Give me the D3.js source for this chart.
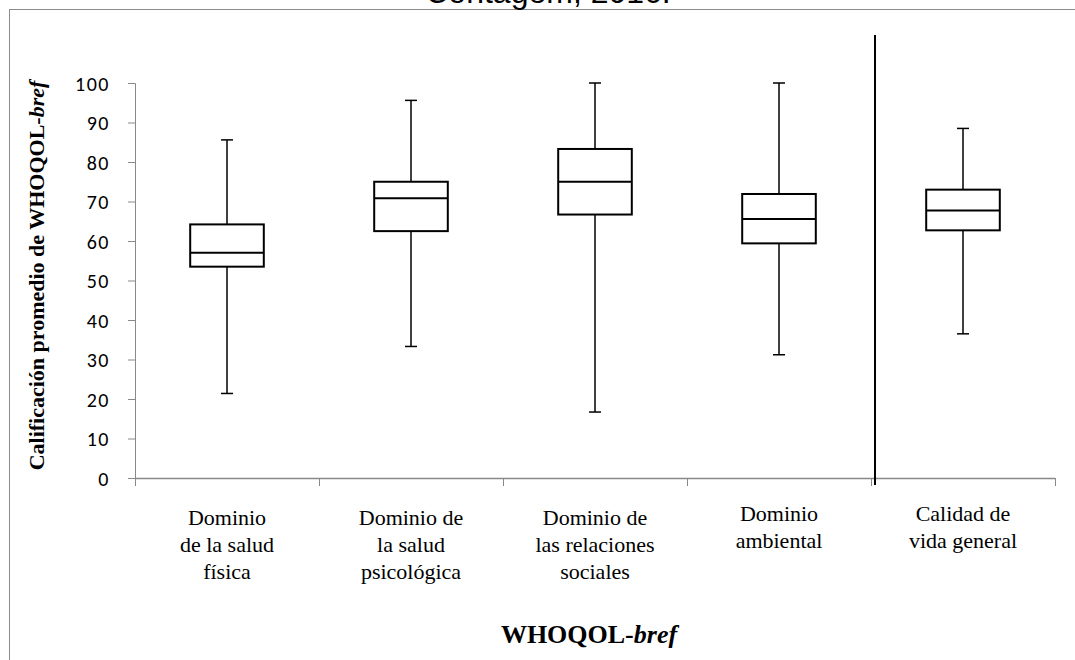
<!DOCTYPE html>
<html>
<head>
<meta charset="utf-8">
<script src="https://cdn.jsdelivr.net/npm/d3@7"></script>
<style>
  body { margin: 0; background: #fff; }
  svg { display: block; }
</style>
</head>
<body>
<div id="chart"></div>
<script>
// WHOQOL-bref domain scores
const categories = [
    ["Dominio", "de la salud", "física"],
    ["Dominio de", "la salud", "psicológica"],
    ["Dominio de", "las relaciones", "sociales"],
    ["Dominio", "ambiental"],
    ["Calidad de", "vida general"]
];
const mins = [21.4, 33.3, 16.7, 31.2, 36.5];
const q1s = [53.5, 62.5, 66.7, 59.4, 62.7];
const medians = [57.0, 70.8, 75.0, 65.6, 67.7];
const q3s = [64.2, 75.0, 83.3, 71.9, 73.0];
const maxs = [85.6, 95.6, 100, 100, 88.5];
const yTicks = [0, 10, 20, 30, 40, 50, 60, 70, 80, 90, 100];

const width = 1075, height = 660;
const margin = { top: 83, right: 20, bottom: 182, left: 135 };
const axisGrey = "#898989";
const serif = "'Liberation Serif', 'Times New Roman', serif";

const boxes = categories.map((c, i) => ({
    key: i,
    lines: c,
    min: mins[i], q1: q1s[i], median: medians[i], q3: q3s[i], max: maxs[i]
}));

const svg = d3.select("#chart").append("svg")
    .attr("width", width)
    .attr("height", height);

// outer chart-area frame (only top and left edges fall inside the picture)
svg.append("rect")
    .attr("x", 9.5).attr("y", 9.5)
    .attr("width", width + 50).attr("height", height + 50)
    .attr("fill", "none")
    .attr("stroke", "#8c8c8c")
    .attr("stroke-width", 1);

// title, mostly cropped off the top
svg.append("text")
    .attr("x", 548).attr("y", 3)
    .attr("text-anchor", "middle")
    .attr("font-family", "'Liberation Sans', Arial, sans-serif")
    .attr("font-size", 32)
    .attr("fill", "#000")
    .text("Contagem, 2016.");

const x = d3.scaleBand()
    .domain(boxes.map(d => d.key))
    .range([margin.left, width - margin.right])
    .padding(0);

const y = d3.scaleLinear()
    .domain([0, 100])
    .range([height - margin.bottom, margin.top]);

// y axis
const yAxis = svg.append("g")
    .attr("transform", `translate(${margin.left},0)`)
    .call(d3.axisLeft(y).tickValues(yTicks).tickSize(7).tickPadding(18));
yAxis.attr("font-family", "Carlito, Lato, 'Open Sans', sans-serif").attr("font-size", 20);
yAxis.select(".domain").attr("stroke", axisGrey);
yAxis.selectAll(".tick line").attr("stroke", axisGrey);
yAxis.selectAll(".tick text")
    .attr("fill", "#000")
    .attr("dy", "0.36em")
    .attr("letter-spacing", 1.5);

// x axis: tick marks sit on the category boundaries
const xAxisY = y(0);
const bounds = d3.range(boxes.length + 1).map(i => margin.left + i * x.step());
const xAxis = svg.append("g");
xAxis.append("line")
    .attr("x1", margin.left).attr("x2", width - margin.right)
    .attr("y1", xAxisY + 0.5).attr("y2", xAxisY + 0.5)
    .attr("stroke", axisGrey).attr("stroke-width", 1.5);
xAxis.selectAll("line.tick")
    .data(bounds)
    .join("line")
    .attr("class", "tick")
    .attr("x1", d => Math.round(d) + 0.5).attr("x2", d => Math.round(d) + 0.5)
    .attr("y1", xAxisY).attr("y2", xAxisY + 8)
    .attr("stroke", axisGrey);

// category labels
svg.append("g")
    .attr("font-family", serif)
    .attr("font-size", 22)
    .selectAll("text")
    .data(boxes)
    .join("text")
    .attr("text-anchor", "middle")
    .attr("fill", "#000")
    .attr("transform", d => `translate(${x(d.key) + x.bandwidth() / 2},${d.lines.length === 3 ? 525 : 521})`)
    .selectAll("tspan")
    .data(d => d.lines)
    .join("tspan")
    .attr("x", 0)
    .attr("dy", (d, i) => i === 0 ? 0 : 27)
    .text(d => d);

// boxes and whiskers
const boxW = x.bandwidth() * 0.4;
const capW = 12;
const g = svg.append("g").attr("stroke", "#000").attr("fill", "none");

const box = g.selectAll("g.box")
    .data(boxes)
    .join("g")
    .attr("class", "box")
    .attr("transform", d => `translate(${x(d.key) + x.bandwidth() / 2},0)`);

box.append("line")
    .attr("x1", 0).attr("x2", 0)
    .attr("y1", d => y(d.max)).attr("y2", d => y(d.q3))
    .attr("stroke-width", 1.5);
box.append("line")
    .attr("x1", 0).attr("x2", 0)
    .attr("y1", d => y(d.q1)).attr("y2", d => y(d.min))
    .attr("stroke-width", 1.5);
box.append("line")
    .attr("x1", -capW / 2).attr("x2", capW / 2)
    .attr("y1", d => y(d.max)).attr("y2", d => y(d.max))
    .attr("stroke-width", 1.5);
box.append("line")
    .attr("x1", -capW / 2).attr("x2", capW / 2)
    .attr("y1", d => y(d.min)).attr("y2", d => y(d.min))
    .attr("stroke-width", 1.5);
box.append("rect")
    .attr("x", -boxW / 2)
    .attr("width", boxW)
    .attr("y", d => y(d.q3))
    .attr("height", d => y(d.q1) - y(d.q3))
    .attr("fill", "#fff")
    .attr("stroke-width", 2);
box.append("line")
    .attr("x1", -boxW / 2).attr("x2", boxW / 2)
    .attr("y1", d => y(d.median)).attr("y2", d => y(d.median))
    .attr("stroke-width", 2);

// separator between the four domains and the overall score
const sepX = x(boxes[4].key) + 4;
svg.append("line")
    .attr("x1", sepX).attr("x2", sepX)
    .attr("y1", 35).attr("y2", xAxisY + 7)
    .attr("stroke", "#000")
    .attr("stroke-width", 2);

// axis titles
svg.append("text")
    .attr("transform", `translate(44,${(y(0) + y(100)) / 2 - 5}) rotate(-90)`)
    .attr("text-anchor", "middle")
    .attr("fill", "#000")
    .attr("font-family", serif)
    .attr("font-weight", "bold")
    .attr("font-size", 22)
    .call(t => {
        t.append("tspan").text("Calificación promedio de WHOQOL-");
        t.append("tspan").attr("font-style", "italic").text("bref");
    });

svg.append("text")
    .attr("x", 589).attr("y", 643)
    .attr("text-anchor", "middle")
    .attr("fill", "#000")
    .attr("font-family", serif)
    .attr("font-weight", "bold")
    .attr("font-size", 26)
    .call(t => {
        t.append("tspan").text("WHOQOL-");
        t.append("tspan").attr("font-style", "italic").text("bref");
    });
</script>
</body>
</html>
